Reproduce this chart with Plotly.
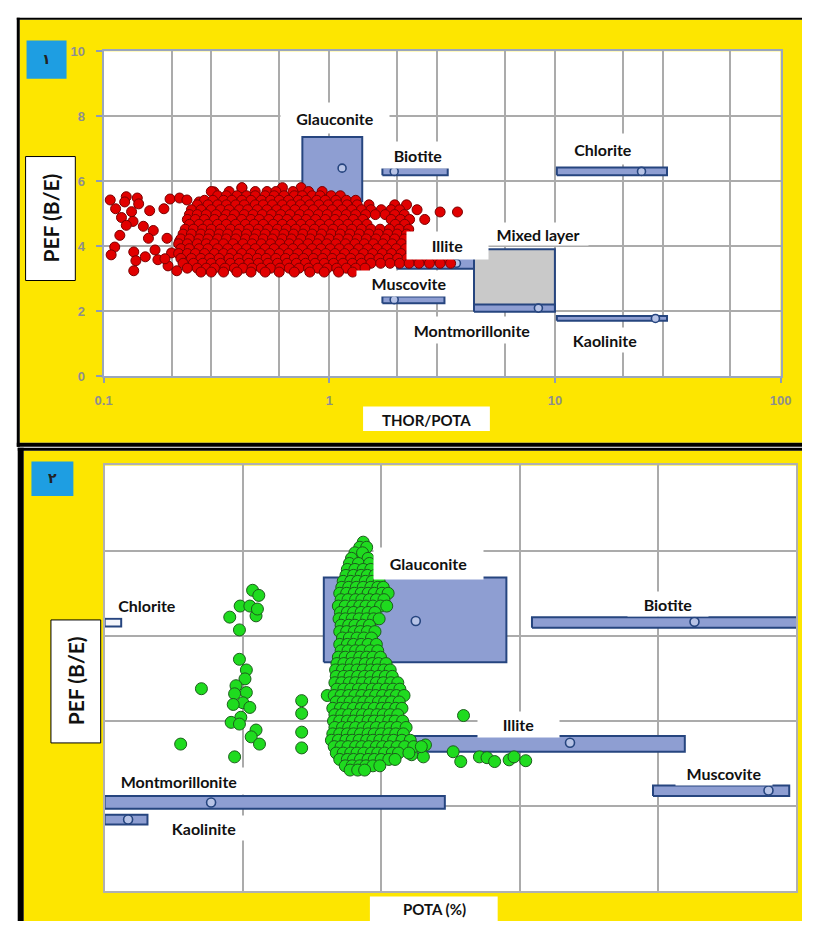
import math
import plotly.graph_objects as go

W, H = 813, 929

# ---------------- panel 1 : PEF vs Th/K ratio ----------------
min1_names = ["Glauconite", "Biotite", "Chlorite", "Illite", "Mixed layer",
              "Montmorillonite", "Muscovite", "Kaolinite"]
min1_thk_lo = [0.76, 1.72, 10.2, 2.0, 4.38, 4.38, 1.72, 10.2]
min1_thk_hi = [1.40, 3.35, 31.4, 4.84, 10.0, 10.0, 3.24, 31.4]
min1_pef_lo = [5.38, 6.18, 6.18, 3.30, 2.00, 1.98, 2.24, 1.70]
min1_pef_hi = [7.36, 6.42, 6.42, 3.64, 3.90, 2.20, 2.45, 1.85]
min1_thk_mean = [1.14, 1.94, 24.2, 3.66, None, 8.45, 1.94, 27.9]
min1_pef_mean = [6.40, 6.30, 6.30, 3.47, None, 2.09, 2.35, 1.77]

lab1_text = ["Glauconite", "Biotite", "Chlorite", "Illite", "Mixed layer",
             "Muscovite", "Montmorillonite", "Kaolinite"]
lab1_thk = [1.056, 2.48, 16.3, 3.35, 8.45, 2.25, 4.29, 16.7]
lab1_pef = [7.94, 6.79, 7.00, 4.03, 4.36, 2.85, 1.42, 1.12]

# well data, Th/K ratio vs PEF (scattered low-ratio points)
red_thk_sparse = [0.107, 0.126, 0.141, 0.143, 0.124, 0.113, 0.133, 0.160, 0.185,
                  0.120, 0.135, 0.126, 0.150, 0.166, 0.158, 0.118, 0.191, 0.112,
                  0.108, 0.136, 0.139, 0.136, 0.153, 0.169, 0.174, 0.197, 0.217,
                  0.234, 0.265, 0.308, 0.410, 0.217, 0.200, 0.193, 0.211, 0.187]
red_pef_sparse = [5.42, 5.52, 5.48, 5.30, 5.36, 5.15, 5.06, 5.09, 5.15,
                  4.88, 4.76, 4.64, 4.61, 4.48, 4.24, 4.33, 4.24, 3.97,
                  3.73, 3.82, 3.55, 3.24, 3.67, 3.88, 3.58, 5.45, 5.48,
                  5.42, 5.36, 5.67, 5.79, 4.15, 3.79, 3.39, 3.24, 3.61]

# well data, main cloud: (PEF, Th/K readings at that PEF)
red_rows = [
    (5.80, [0.41, 0.62, 0.75]),
    (5.68, [0.30, 0.36, 0.47, 0.53, 0.58, 0.69, 0.81, 0.93]),
    (5.55, [0.32, 0.35, 0.39, 0.43, 0.47, 0.52, 0.57, 0.63, 0.70, 0.76, 0.84, 0.91, 1.02, 1.12]),
    (5.41, [0.28, 0.305, 0.34, 0.37, 0.41, 0.45, 0.50, 0.55, 0.60, 0.66, 0.73, 0.79, 0.88, 0.96,
            1.07, 1.19, 1.31]),
    (5.27, [0.26, 0.29, 0.32, 0.35, 0.385, 0.42, 0.47, 0.51, 0.56, 0.62, 0.68, 0.745, 0.82, 0.90,
            0.99, 1.09, 1.20, 1.33, 1.50, 1.95, 2.20]),
    (5.12, [0.245, 0.27, 0.30, 0.33, 0.36, 0.40, 0.435, 0.48, 0.53, 0.585, 0.64, 0.705, 0.775,
            0.85, 0.94, 1.03, 1.14, 1.26, 1.39, 1.53, 1.70, 1.88, 2.05, 2.45]),
    (5.05, [3.10, 3.70]),
    (4.97, [0.24, 0.26, 0.285, 0.315, 0.35, 0.38, 0.42, 0.46, 0.505, 0.555, 0.61, 0.67, 0.74,
            0.81, 0.895, 0.98, 1.08, 1.19, 1.31, 1.45, 1.60, 1.77, 1.95, 2.15]),
    (4.82, [0.235, 0.255, 0.28, 0.31, 0.34, 0.37, 0.41, 0.45, 0.49, 0.54, 0.595, 0.65, 0.72,
            0.79, 0.87, 0.96, 1.06, 1.16, 1.28, 1.41, 1.88, 2.07, 2.27, 2.65]),
    (4.67, [0.24, 0.265, 0.29, 0.32, 0.35, 0.385, 0.425, 0.465, 0.51, 0.565, 0.62, 0.68, 0.75,
            0.825, 0.91, 1.00, 1.10, 1.21, 1.33, 1.47, 1.96, 2.16]),
    (4.52, [0.23, 0.25, 0.275, 0.30, 0.33, 0.365, 0.40, 0.44, 0.485, 0.535, 0.59, 0.645, 0.71,
            0.78, 0.86, 0.945, 1.04, 1.145, 1.26, 1.39, 1.53, 1.68, 1.85, 2.04, 2.25]),
    (4.37, [0.225, 0.245, 0.27, 0.295, 0.325, 0.355, 0.39, 0.43, 0.475, 0.52, 0.575, 0.63,
            0.695, 0.765, 0.84, 0.925, 1.02, 1.12, 1.235, 1.36, 1.50, 1.65, 1.82, 2.00, 2.20]),
    (4.22, [0.22, 0.24, 0.265, 0.29, 0.32, 0.35, 0.385, 0.425, 0.465, 0.51, 0.56, 0.62, 0.68,
            0.75, 0.825, 0.905, 1.00, 1.10, 1.21, 1.33, 1.46, 1.61, 1.77, 1.95, 2.15]),
    (4.07, [0.215, 0.235, 0.26, 0.285, 0.31, 0.34, 0.375, 0.415, 0.455, 0.50, 0.55, 0.605,
            0.665, 0.73, 0.805, 0.885, 0.975, 1.07, 1.18, 1.30, 1.43, 1.57, 1.73, 1.90, 2.09, 2.30]),
    (3.92, [0.22, 0.24, 0.265, 0.29, 0.32, 0.355, 0.39, 0.43, 0.47, 0.52, 0.57, 0.63, 0.69,
            0.76, 0.84, 0.92, 1.01, 1.11, 1.22, 1.35, 1.48, 1.63, 1.80, 1.98, 2.18]),
    (3.77, [0.215, 0.235, 0.255, 0.28, 0.31, 0.34, 0.37, 0.41, 0.45, 0.495, 0.545, 0.60, 0.66,
            0.725, 0.80, 0.88, 0.965, 1.06, 1.17, 1.29, 1.42, 1.56, 1.72, 1.89, 2.08, 2.30, 2.55]),
    (3.62, [0.22, 0.245, 0.27, 0.295, 0.325, 0.36, 0.395, 0.435, 0.48, 0.525, 0.58, 0.64,
            0.70, 0.77, 0.85, 0.935, 1.03, 1.13, 1.245, 1.37, 1.51, 1.66, 1.83, 2.01, 2.21,
            2.45, 2.70, 3.00, 3.35]),
    (3.47, [0.225, 0.25, 0.275, 0.30, 0.33, 0.365, 0.40, 0.44, 0.485, 0.535, 0.59, 0.65,
            0.715, 0.785, 0.865, 0.95, 1.045, 1.15, 1.265, 1.39, 1.53, 1.69, 1.86, 2.05,
            2.26, 2.50, 2.78, 3.10, 3.45]),
    (3.32, [0.235, 0.26, 0.285, 0.31, 0.345, 0.38, 0.415, 0.455, 0.50, 0.55, 0.605, 0.665,
            0.735, 0.81, 0.89, 0.98, 1.08, 1.19, 1.31, 1.44]),
    (3.20, [0.27, 0.30, 0.34, 0.39, 0.45, 0.52, 0.60, 0.70, 0.82, 0.95, 1.10, 1.27]),
]

# ---------------- panel 2 : PEF vs potassium ----------------
min2_names = ["Glauconite", "Biotite", "Chlorite", "Illite", "Muscovite",
              "Montmorillonite", "Kaolinite"]
min2_k_lo = [3.17, 6.18, 0.0, 3.51, 7.93, 0.0, 0.0]
min2_k_hi = [5.81, 10.3, 0.24, 8.39, 9.90, 4.92, 0.62]
min2_pef_lo = [5.38, 6.19, 6.22, 3.28, 2.24, 1.94, 1.57]
min2_pef_hi = [7.37, 6.44, 6.40, 3.65, 2.49, 2.24, 1.80]
min2_k_mean = [4.50, 8.53, None, 6.73, 9.60, 1.54, 0.34]
min2_pef_mean = [6.35, 6.33, None, 3.49, 2.37, 2.09, 1.69]

lab2_text = ["Glauconite", "Biotite", "Chlorite", "Illite", "Muscovite",
             "Montmorillonite", "Kaolinite"]
lab2_k = [4.68, 8.15, 0.62, 5.99, 8.96, 1.07, 1.44]
lab2_pef = [7.69, 6.74, 6.72, 3.93, 2.77, 2.59, 1.50]

# well data, isolated readings
green_k_sparse = [2.14, 2.23, 1.96, 2.10, 1.81, 2.19, 2.21, 1.95, 1.95, 2.05, 2.03, 1.90,
                  2.05, 1.88, 2.00, 1.86, 2.10, 1.97, 1.83, 1.95, 2.19, 2.12, 2.24, 1.88,
                  1.40, 1.10, 2.85, 2.85, 2.85, 2.85, 3.22, 5.19, 5.04, 5.15, 5.42, 5.53,
                  5.64, 5.85, 5.92, 6.09, 4.64, 4.61, 4.44]
green_pef_sparse = [7.07, 6.95, 6.70, 6.70, 6.44, 6.47, 6.63, 6.14, 5.45, 5.20, 4.99, 4.83,
                    4.67, 4.64, 4.43, 4.39, 4.32, 4.09, 3.97, 3.93, 3.79, 3.63, 3.46, 3.16,
                    4.76, 3.46, 4.48, 4.18, 3.74, 3.37, 4.60, 4.13, 3.28, 3.05, 3.16, 3.14,
                    3.05, 3.09, 3.16, 3.07, 3.44, 3.16, 3.21]

# well data, main column: (PEF, potassium readings at that PEF)
green_rows = [
    (8.20, [3.74]),
    (8.08, [3.69, 3.79]),
    (7.95, [3.62, 3.73]),
    (7.82, [3.57, 3.81]),
    (7.70, [3.54, 3.67, 3.83]),
    (7.56, [3.51, 3.62, 3.74, 3.85]),
    (7.42, [3.49, 3.60, 3.71, 3.80, 3.91]),
    (7.28, [3.45, 3.56, 3.66, 3.77, 3.87, 3.97]),
    (7.14, [3.43, 3.53, 3.64, 3.74, 3.85, 3.95, 4.03]),
    (7.00, [3.40, 3.50, 3.61, 3.71, 3.81, 3.90, 4.01, 4.10]),
    (6.85, [3.42, 3.52, 3.63, 3.72, 3.83, 3.93, 4.04]),
    (6.70, [3.38, 3.48, 3.59, 3.69, 3.78, 3.88, 3.99, 4.08]),
    (6.55, [3.41, 3.51, 3.60, 3.71, 3.81, 3.91]),
    (6.40, [3.39, 3.48, 3.58, 3.68, 3.79, 3.89, 3.97]),
    (6.25, [3.42, 3.53, 3.62, 3.73, 3.83]),
    (6.10, [3.40, 3.50, 3.61, 3.70, 3.80, 3.91]),
    (5.95, [3.44, 3.54, 3.65, 3.75, 3.86]),
    (5.80, [3.40, 3.51, 3.60, 3.71, 3.81, 3.93]),
    (5.65, [3.42, 3.52, 3.63, 3.72, 3.84, 3.95]),
    (5.50, [3.38, 3.48, 3.58, 3.69, 3.79, 3.88, 3.99]),
    (5.35, [3.36, 3.46, 3.57, 3.66, 3.77, 3.87, 3.96, 4.07]),
    (5.20, [3.34, 3.44, 3.54, 3.65, 3.74, 3.85, 3.94, 4.04, 4.13]),
    (5.05, [3.35, 3.46, 3.55, 3.66, 3.76, 3.85, 3.96, 4.06, 4.16]),
    (4.90, [3.33, 3.43, 3.54, 3.63, 3.73, 3.84, 3.93, 4.03, 4.14, 4.24]),
    (4.75, [3.36, 3.46, 3.56, 3.67, 3.76, 3.87, 3.96, 4.07, 4.17, 4.27]),
    (4.60, [3.32, 3.42, 3.53, 3.62, 3.72, 3.83, 3.92, 4.02, 4.13, 4.22, 4.33]),
    (4.45, [3.35, 3.45, 3.55, 3.66, 3.75, 3.85, 3.96, 4.05, 4.15, 4.26]),
    (4.30, [3.30, 3.41, 3.50, 3.60, 3.71, 3.80, 3.90, 4.01, 4.10, 4.21, 4.30]),
    (4.15, [3.33, 3.43, 3.53, 3.64, 3.73, 3.83, 3.94, 4.03, 4.13, 4.24]),
    (4.00, [3.31, 3.40, 3.51, 3.60, 3.70, 3.81, 3.90, 4.00, 4.11, 4.20, 4.31]),
    (3.85, [3.33, 3.44, 3.53, 3.63, 3.74, 3.83, 3.93, 4.04, 4.13, 4.23, 4.36]),
    (3.70, [3.30, 3.40, 3.51, 3.60, 3.70, 3.81, 3.90, 4.00, 4.11, 4.21, 4.32]),
    (3.55, [3.28, 3.38, 3.49, 3.58, 3.68, 3.79, 3.88, 3.98, 4.09, 4.18, 4.30, 4.42]),
    (3.40, [3.32, 3.42, 3.52, 3.63, 3.72, 3.82, 3.93, 4.02, 4.12, 4.23, 4.34, 4.47, 4.58]),
    (3.25, [3.35, 3.45, 3.56, 3.65, 3.75, 3.86, 3.95, 4.05, 4.16, 4.25, 4.40]),
    (3.10, [3.40, 3.51, 3.60, 3.70, 3.81, 3.90, 4.00, 4.11, 4.20]),
    (2.95, [3.48, 3.58, 3.69, 3.78, 3.88, 3.98]),
    (2.85, [3.55, 3.66, 3.76]),
]

# ---------------- styling ----------------
YELLOW = "#FDE600"
BOX_FILL = "#8E9ED2"
BOX_EDGE = "#26457F"
GRID = "#ABABAB"
LABEL_FONT = dict(family="Lato", size=16, color="#111111")
# label box sizes (px) for each mineral caption
lab1_size = [(108, 30), (76, 26), (80, 30), (81, 27), (100, 22), (104, 25), (130, 26), (92, 24)]
lab2_size = [(109, 31), (80, 24), (82, 24), (81, 25), (96, 24), (142, 26), (92, 24)]


def px(x):
    return x / W


def py(y):
    return 1 - y / H


def flatten(rows):
    xs, ys = [], []
    for yv, xvals in rows:
        xs.extend(xvals)
        ys.extend([yv] * len(xvals))
    return xs, ys


def box(x0, x1, y0, y1, fill, xa, ya):
    return go.Scatter(x=[x0, x1, x1, x0, x0], y=[y0, y0, y1, y1, y0],
                      mode="lines", fill="toself", fillcolor=fill,
                      line=dict(color=BOX_EDGE, width=2),
                      xaxis=xa, yaxis=ya, hoverinfo="skip", showlegend=False)


fig = go.Figure()

# mineral zones, panel 1
for i, name in enumerate(min1_names):
    fill = "#C9C9C9" if name == "Mixed layer" else BOX_FILL
    fig.add_trace(box(min1_thk_lo[i], min1_thk_hi[i], min1_pef_lo[i], min1_pef_hi[i],
                      fill, "x", "y"))
m1x = [v for v in min1_thk_mean if v is not None]
m1y = [v for v in min1_pef_mean if v is not None]
fig.add_trace(go.Scatter(x=m1x, y=m1y, mode="markers", xaxis="x", yaxis="y",
                         marker=dict(size=8, color="#B7C3E6", line=dict(color=BOX_EDGE, width=1.6)),
                         hoverinfo="skip", showlegend=False))

rx, ry = flatten(red_rows)
fig.add_trace(go.Scatter(x=red_thk_sparse + rx, y=red_pef_sparse + ry, mode="markers",
                         xaxis="x", yaxis="y",
                         marker=dict(size=10, color="#E10000", line=dict(color="#7A0000", width=1)),
                         showlegend=False))

# mineral zones, panel 2
for i, name in enumerate(min2_names):
    fill = "#F4F6FC" if name == "Chlorite" else BOX_FILL
    fig.add_trace(box(min2_k_lo[i], min2_k_hi[i], min2_pef_lo[i], min2_pef_hi[i],
                      fill, "x2", "y2"))
m2x = [v for v in min2_k_mean if v is not None]
m2y = [v for v in min2_pef_mean if v is not None]
fig.add_trace(go.Scatter(x=m2x, y=m2y, mode="markers", xaxis="x2", yaxis="y2",
                         marker=dict(size=9, color="#B7C3E6", line=dict(color=BOX_EDGE, width=1.6)),
                         hoverinfo="skip", showlegend=False))

gx, gy = flatten(green_rows)
fig.add_trace(go.Scatter(x=green_k_sparse + gx, y=green_pef_sparse + gy, mode="markers",
                         xaxis="x2", yaxis="y2",
                         marker=dict(size=12, color="#1FDB1F", line=dict(color="#1C5E1C", width=1)),
                         showlegend=False))

# ---------------- frames, backgrounds ----------------
shapes = [
    dict(type="rect", xref="paper", yref="paper", x0=px(11), x1=1, y0=py(443), y1=py(13),
         fillcolor=YELLOW, line=dict(width=0), layer="below"),
    dict(type="rect", xref="paper", yref="paper", x0=px(15), x1=1, y0=0, y1=py(451),
         fillcolor=YELLOW, line=dict(width=0), layer="below"),
    dict(type="rect", xref="paper", yref="paper", x0=px(97), x1=px(791), y0=py(375), y1=py(45),
         fillcolor="white", line=dict(width=0), layer="below"),
    dict(type="rect", xref="paper", yref="paper", x0=px(98), x1=px(807), y0=py(899), y1=py(466),
         fillcolor="white", line=dict(width=0), layer="below"),
    # black panel borders
    dict(type="line", xref="paper", yref="paper", x0=px(8), x1=1, y0=py(12), y1=py(12),
         line=dict(color="black", width=2), layer="below"),
    dict(type="line", xref="paper", yref="paper", x0=px(9.5), x1=px(9.5), y0=py(447), y1=py(11),
         line=dict(color="black", width=3), layer="below"),
    dict(type="line", xref="paper", yref="paper", x0=px(8), x1=1, y0=py(445), y1=py(445),
         line=dict(color="black", width=4), layer="below"),
    dict(type="line", xref="paper", yref="paper", x0=px(9), x1=1, y0=py(449.5), y1=py(449.5),
         line=dict(color="black", width=3), layer="below"),
    dict(type="line", xref="paper", yref="paper", x0=px(12), x1=px(12), y0=0, y1=py(448),
         line=dict(color="black", width=6), layer="below"),
    # axis title boxes
    dict(type="rect", xref="paper", yref="paper", x0=px(17), x1=px(68), y0=py(278), y1=py(152),
         fillcolor="white", line=dict(color="black", width=1), layer="below"),
    dict(type="rect", xref="paper", yref="paper", x0=px(43), x1=px(94), y0=py(748), y1=py(623),
         fillcolor="white", line=dict(color="black", width=1), layer="below"),
    dict(type="rect", xref="paper", yref="paper", x0=px(363), x1=px(493), y0=py(431), y1=py(406),
         fillcolor="white", line=dict(width=0), layer="below"),
    dict(type="rect", xref="paper", yref="paper", x0=px(370), x1=px(501), y0=0, y1=py(904),
         fillcolor="white", line=dict(width=0), layer="below"),
    # panel number tags
    dict(type="rect", xref="paper", yref="paper", x0=px(18), x1=px(59), y0=py(73), y1=py(34),
         fillcolor="#1E9EE2", line=dict(width=0), layer="below"),
    dict(type="rect", xref="paper", yref="paper", x0=px(23), x1=px(66), y0=py(497), y1=py(462),
         fillcolor="#1E9EE2", line=dict(width=0), layer="below"),
]

annotations = []
for t, xv, yv, (bw, bh) in zip(lab1_text, lab1_thk, lab1_pef, lab1_size):
    annotations.append(dict(text="<b>%s</b>" % t, x=math.log10(xv), y=yv, xref="x", yref="y",
                            showarrow=False, bgcolor="white", width=bw, height=bh,
                            font=LABEL_FONT, xanchor="center", yanchor="middle", borderpad=0))
for t, xv, yv, (bw, bh) in zip(lab2_text, lab2_k, lab2_pef, lab2_size):
    annotations.append(dict(text="<b>%s</b>" % t, x=xv, y=yv, xref="x2", yref="y2",
                            showarrow=False, bgcolor="white", width=bw, height=bh,
                            font=LABEL_FONT, xanchor="center", yanchor="middle", borderpad=0))

title_font = dict(family="Lato", size=15, color="#111111")
paper_note = dict(xref="paper", yref="paper", showarrow=False,
                  xanchor="center", yanchor="middle")
annotations += [
    dict(text="<b>THOR/POTA</b>", x=px(428), y=py(420), font=title_font, **paper_note),
    dict(text="<b>POTA (%)</b>", x=px(436), y=py(917), font=title_font, **paper_note),
    dict(text="<b>PEF (B/E)</b>", x=px(43), y=py(214), textangle=-90,
         font=dict(family="Lato", size=21, color="#111111"), **paper_note),
    dict(text="<b>PEF (B/E)</b>", x=px(69), y=py(685), textangle=-90,
         font=dict(family="Lato", size=21, color="#111111"), **paper_note),
    dict(text="<b>\u0661</b>", x=px(38.5), y=py(53),
         font=dict(family="DejaVu Sans", size=14, color="#222222"), **paper_note),
    dict(text="<b>\u0662</b>", x=px(44.5), y=py(479),
         font=dict(family="DejaVu Sans", size=14, color="#222222"), **paper_note),
]

tick_font = dict(family="Liberation Sans", size=13, color="#8E8E8E", weight="bold")

fig.update_layout(
    width=W, height=H, autosize=False,
    margin=dict(l=0, r=0, t=0, b=0),
    paper_bgcolor="white", plot_bgcolor="white",
    shapes=shapes, annotations=annotations, showlegend=False,
    xaxis=dict(type="log", range=[-1, 2], domain=[px(97), px(791)], anchor="y",
               tickvals=[0.1, 1, 10, 100], ticktext=["0.1", "1", "10", "100"],
               ticks="outside", ticklen=5, tickcolor="#8D9BB5", tickwidth=1.5,
               ticklabelstandoff=6, tickfont=tick_font,
               showgrid=True, gridcolor=GRID, gridwidth=1.6,
               minor=dict(tickvals=[0.2, 0.3, 0.6, 2, 3, 6, 20, 30, 60], showgrid=True,
                          gridcolor=GRID, gridwidth=1.6, ticks=""),
               showline=True, linecolor="#9AA6BC", linewidth=2, mirror=True, zeroline=False),
    yaxis=dict(range=[0, 10], dtick=2, domain=[py(375), py(45)], anchor="x",
               ticks="outside", ticklen=6, tickcolor="#8D9BB5", tickwidth=1.5,
               ticklabelstandoff=8, tickfont=tick_font,
               showgrid=True, gridcolor=GRID, gridwidth=1.6,
               showline=True, linecolor="#9AA6BC", linewidth=2, mirror=True, zeroline=False),
    xaxis2=dict(range=[0, 10], dtick=2, domain=[px(98), px(807)], anchor="y2",
                showticklabels=False, ticks="", showgrid=True, gridcolor=GRID, gridwidth=1.6,
                showline=True, linecolor="#B0B0B0", linewidth=1.5, mirror=True, zeroline=False),
    yaxis2=dict(range=[0, 10], dtick=2, domain=[py(899), py(466)], anchor="x2",
                showticklabels=False, ticks="", showgrid=True, gridcolor=GRID, gridwidth=1.6,
                showline=True, linecolor="#B0B0B0", linewidth=1.5, mirror=True, zeroline=False),
)

fig.write_html("out.html")
